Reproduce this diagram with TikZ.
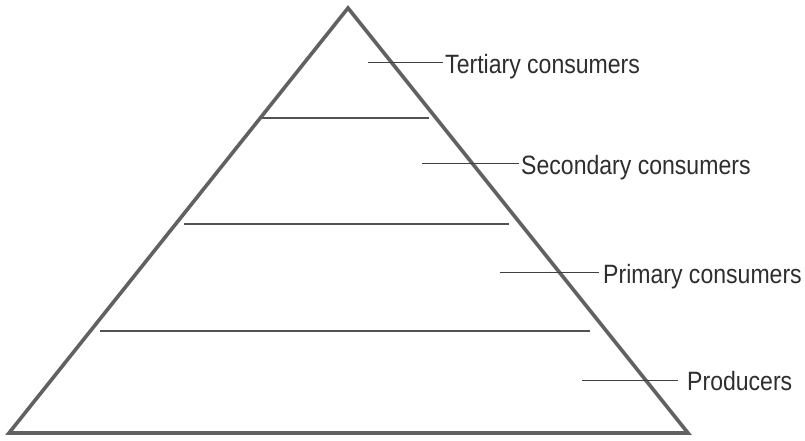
\documentclass[tikz,border=0pt]{standalone}
\usepackage{fontspec}
\setmainfont{Liberation Sans}[FakeStretch=0.87]
\begin{document}
\begin{tikzpicture}[x=1pt,y=-1pt,
  edge/.style={draw=black!62, line width=3.6pt, line join=miter},
  tier/.style={draw=black!68, line width=1.6pt},
  leader/.style={draw=black!75, line width=0.9pt},
  lbl/.style={anchor=base west, inner sep=0pt, text=black!82, font=\fontsize{26.5}{30}\selectfont}]
\useasboundingbox (0,0) rectangle (805,440);
\coordinate (A) at (348,8);
\coordinate (L) at (9,433);
\coordinate (R) at (688,433);
% tier lines
\coordinate (t1l) at (260,118); \coordinate (t1r) at (429,118);
\coordinate (t2l) at (184,224); \coordinate (t2r) at (509,224);
\coordinate (t3l) at (100,331); \coordinate (t3r) at (590,331);
\draw[tier] (t1l) -- (t1r);
\draw[tier] (t2l) -- (t2r);
\draw[tier] (t3l) -- (t3r);
\draw[edge] (A) -- (R) -- (L) -- cycle;
% labels
\node[lbl] (n1) at (445,73) {Tertiary consumers};
\node[lbl] (n2) at (521,174) {Secondary consumers};
\node[lbl] (n3) at (603,283) {Primary consumers};
\node[lbl] (n4) at (687,390.5) {Producers};
\coordinate (s1) at (368,62);
\coordinate (s2) at (422,163);
\coordinate (s3) at (500,272);
\coordinate (s4) at (582,380);
\draw[leader] (s1) -- ([xshift=-2pt,yshift=11pt]n1.base west);
\draw[leader] (s2) -- ([xshift=-2pt,yshift=11pt]n2.base west);
\draw[leader] (s3) -- ([xshift=-4pt,yshift=11pt]n3.base west);
\draw[leader] (s4) -- ([xshift=-9pt,yshift=10.5pt]n4.base west);
\end{tikzpicture}
\end{document}
